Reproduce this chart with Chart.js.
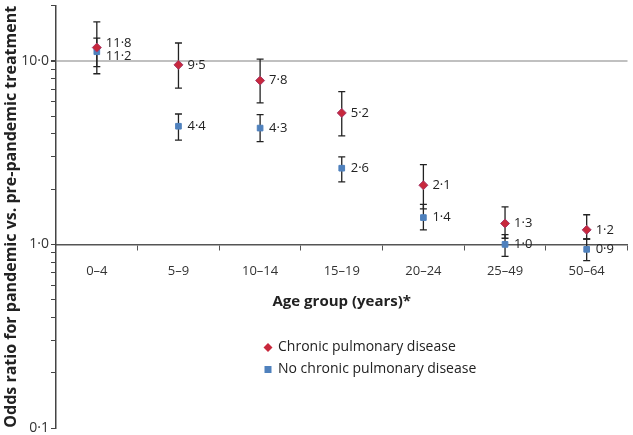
<!DOCTYPE html>
<html>
<head>
<meta charset="utf-8">
<script src="https://cdn.jsdelivr.net/npm/chart.js@4"></script>
<style>
  body { margin: 0; background: #fff; }
</style>
</head>
<body>
<canvas id="orChart" width="633" height="435"></canvas>
<script>
const categories = ['0–4', '5–9', '10–14', '15–19', '20–24', '25–49', '50–64'];

// odds ratios with 95% CI
const chronicOR = [11.8, 9.5, 7.8, 5.2, 2.1, 1.3, 1.2];
const chronicLow = [8.5, 7.1, 5.9, 3.9, 1.56, 1.08, 1.07];
const chronicHigh = [16.3, 12.5, 10.2, 6.8, 2.72, 1.6, 1.45];

const noChronicOR = [11.2, 4.4, 4.3, 2.6, 1.4, 1.0, 0.94];
const noChronicLow = [9.3, 3.7, 3.63, 2.19, 1.2, 0.86, 0.815];
const noChronicHigh = [13.3, 5.13, 5.09, 3.0, 1.65, 1.13, 1.07];

const yTicks = [0.1, 0.2, 0.3, 0.4, 0.5, 0.6, 0.7, 0.8, 0.9, 1, 2, 3, 4, 5, 6, 7, 8, 9, 10, 20];
const yLabels = { 0.1: '0·1', 1: '1·0', 10: '10·0' };

const legendItems = ['Chronic pulmonary disease', 'No chronic pulmonary disease'];

const RED = '#c8283c';
const BLUE = '#4f81bd';
const FONT = "'Open Sans', sans-serif";

const fmt = v => v.toFixed(1).replace('.', '·');

const errorBars = {
  id: 'errorBars',
  beforeDatasetsDraw(chart) {
    const ctx = chart.ctx;
    const y = chart.scales.y;
    ctx.save();
    ctx.strokeStyle = '#222';
    ctx.lineWidth = 1.3;
    chart.data.datasets.forEach((ds, i) => {
      chart.getDatasetMeta(i).data.forEach((pt, j) => {
        const top = y.getPixelForValue(ds.errHigh[j]);
        const bot = y.getPixelForValue(ds.errLow[j]);
        ctx.beginPath();
        ctx.moveTo(pt.x, top); ctx.lineTo(pt.x, bot);
        ctx.moveTo(pt.x - 3.5, top); ctx.lineTo(pt.x + 3.5, top);
        ctx.moveTo(pt.x - 3.5, bot); ctx.lineTo(pt.x + 3.5, bot);
        ctx.stroke();
      });
    });
    ctx.restore();
  }
};

const valueLabels = {
  id: 'valueLabels',
  afterDatasetsDraw(chart) {
    const ctx = chart.ctx;
    const m0 = chart.getDatasetMeta(0).data;
    const m1 = chart.getDatasetMeta(1).data;
    ctx.save();
    ctx.font = '13px ' + FONT;
    ctx.fillStyle = '#222';
    ctx.textBaseline = 'middle';
    m0.forEach((p, j) => {
      let y0 = p.y, y1 = m1[j].y;
      const gap = y1 - y0;
      if (gap < 13) {
        y0 -= (13 - gap) / 2;
        y1 += (13 - gap) / 2;
      }
      ctx.fillText(fmt(chart.data.datasets[0].data[j]), p.x + 9, y0);
      ctx.fillText(fmt(chart.data.datasets[1].data[j]), m1[j].x + 9, y1);
    });
    ctx.restore();
  }
};

const insideLegend = {
  id: 'insideLegend',
  afterDraw(chart) {
    const ctx = chart.ctx;
    const x = chart.chartArea.left + 212;
    const y = chart.chartArea.top + 342;
    ctx.save();
    // diamond
    ctx.fillStyle = RED;
    ctx.beginPath();
    ctx.moveTo(x, y - 4.5); ctx.lineTo(x + 4.5, y); ctx.lineTo(x, y + 4.5); ctx.lineTo(x - 4.5, y);
    ctx.closePath();
    ctx.fill();
    // square
    ctx.fillStyle = BLUE;
    ctx.fillRect(x - 3.5, y + 22 - 3.5, 7, 7);
    ctx.font = '14px ' + FONT;
    ctx.fillStyle = '#222';
    ctx.textBaseline = 'middle';
    ctx.fillText(legendItems[0], x + 10, y);
    ctx.fillText(legendItems[1], x + 10, y + 22);
    ctx.restore();
  }
};

new Chart(document.getElementById('orChart'), {
  type: 'line',
  data: {
    labels: categories,
    datasets: [
      {
        label: legendItems[0],
        data: chronicOR,
        errLow: chronicLow,
        errHigh: chronicHigh,
        showLine: false,
        pointStyle: 'rectRot',
        pointRadius: 4.5,
        pointBackgroundColor: RED,
        pointBorderColor: '#a83a6a',
        pointBorderWidth: 1
      },
      {
        label: legendItems[1],
        data: noChronicOR,
        errLow: noChronicLow,
        errHigh: noChronicHigh,
        showLine: false,
        pointStyle: 'rect',
        pointRadius: 4,
        pointBackgroundColor: BLUE,
        pointBorderColor: BLUE,
        pointBorderWidth: 1
      }
    ]
  },
  options: {
    responsive: false,
    animation: false,
    devicePixelRatio: 1,
    layout: { padding: { left: 0, right: 0, top: 4, bottom: 7 } },
    plugins: {
      legend: { display: false },
      tooltip: { enabled: false }
    },
    scales: {
      x: {
        position: { y: 1 },
        offset: true,
        border: { color: '#555', width: 1.5 },
        grid: { offset: true, drawOnChartArea: false, tickLength: 5, tickColor: '#555' },
        ticks: { padding: 14, color: '#333', font: { family: FONT, size: 13 } },
        title: {
          display: true,
          text: 'Age group (years)*',
          color: '#222',
          font: { family: FONT, size: 15, weight: 'bold' },
          padding: { top: 0, bottom: 4 }
        }
      },
      y: {
        type: 'logarithmic',
        min: 0.1,
        max: 20,
        afterBuildTicks: scale => { scale.ticks = yTicks.map(v => ({ value: v })); },
        afterFit: scale => {
          scale.width = 56;
          scale.paddingTop = 0;
          scale.paddingBottom = 0;
        },
        border: { color: '#444', width: 1.5 },
        grid: {
          color: c => (c.tick && c.tick.value === 10 ? '#c0c0c0' : 'rgba(0,0,0,0)'),
          lineWidth: c => (c.tick && c.tick.value === 10 ? 2 : 1),
          tickColor: '#444',
          tickLength: 5
        },
        ticks: {
          autoSkip: false,
          padding: 2,
          color: '#333',
          font: { family: FONT, size: 14 },
          callback: v => yLabels[v] || ''
        },
        title: {
          display: true,
          text: 'Odds ratio for pandemic vs. pre-pandemic treatment',
          color: '#222',
          font: { family: FONT, size: 16, weight: 'bold' },
          padding: { top: 2, bottom: 2 }
        }
      }
    }
  },
  plugins: [errorBars, valueLabels, insideLegend]
});
</script>
</body>
</html>
